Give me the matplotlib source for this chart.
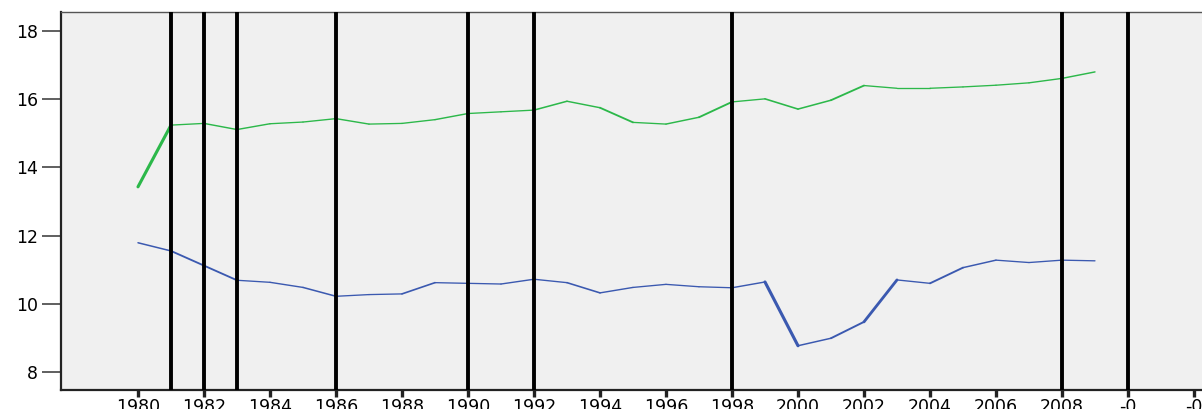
import matplotlib
matplotlib.use("Agg")
import matplotlib.pyplot as plt
import numpy as np
from matplotlib.collections import LineCollection

years = np.arange(1980, 2010)
green = [13.43, 15.24, 15.29, 15.11, 15.28, 15.33, 15.43, 15.27, 15.29, 15.40,
         15.58, 15.63, 15.68, 15.94, 15.75, 15.32, 15.27, 15.47, 15.92, 16.01,
         15.71, 15.97, 16.40, 16.32, 16.32, 16.36, 16.41, 16.48, 16.61, 16.80]
blue = [11.79, 11.55, 11.12, 10.69, 10.63, 10.48, 10.22, 10.27, 10.29, 10.62,
        10.60, 10.58, 10.72, 10.62, 10.32, 10.48, 10.57, 10.50, 10.47, 10.64,
        8.77, 8.99, 9.47, 10.70, 10.60, 11.06, 11.28, 11.21, 11.28, 11.26]
breaks = [1981, 1982, 1983, 1986, 1990, 1992, 1998, 2008, 2010]
xticks = np.arange(1980, 2014, 2)
xlabels = [str(y) for y in range(1980, 2010, 2)] + ["-0", "-0"]
yticks = [8, 10, 12, 14, 16, 18]

fig = plt.figure(figsize=(12.02, 4.09), dpi=100)
ax = fig.add_axes([61 / 1202, 19 / 409, 1166 / 1202, 378 / 409])
ax.set_facecolor("#f0f0f0")
ax.set_xlim(1977.667, 1977.667 + 1166 / 33)
ax.set_ylim(7.472, 18.557)

# line width grows with steepness (wide horizontal stretch of the plot)
stretch = 2.6
def add_series(vals, color, base=0.95):
    pts = np.column_stack([years, vals])
    segs = np.stack([pts[:-1], pts[1:]], axis=1)
    pix = ax.transData.transform(pts)
    d = np.diff(pix, axis=0)
    w = base * np.sqrt(d[:, 0] ** 2 + (stretch * d[:, 1]) ** 2) / np.hypot(d[:, 0], d[:, 1])
    lc = LineCollection(segs, colors=color, linewidths=w, capstyle="round", joinstyle="round", zorder=2)
    ax.add_collection(lc)

add_series(green, "#2cb84a")
add_series(blue, "#3b59b0")

for b in breaks:
    ax.axvline(b, color="black", lw=2.8, zorder=3)

ax.set_xticks(xticks)
ax.set_xticklabels(xlabels)
ax.set_yticks(yticks)
ax.tick_params(axis="x", length=5, width=2.4, color="#222222", pad=1, labelsize=12.5)
ax.tick_params(axis="y", length=13.5, width=1.2, color="#444444", pad=3, labelsize=12.5)

for side in ["left", "bottom"]:
    ax.spines[side].set_color("#222222")
    ax.spines[side].set_linewidth(1.6)
ax.spines["top"].set_color("#555555")
ax.spines["top"].set_linewidth(1.0)
ax.spines["right"].set_visible(False)

fig.savefig("out.png", dpi=100)
